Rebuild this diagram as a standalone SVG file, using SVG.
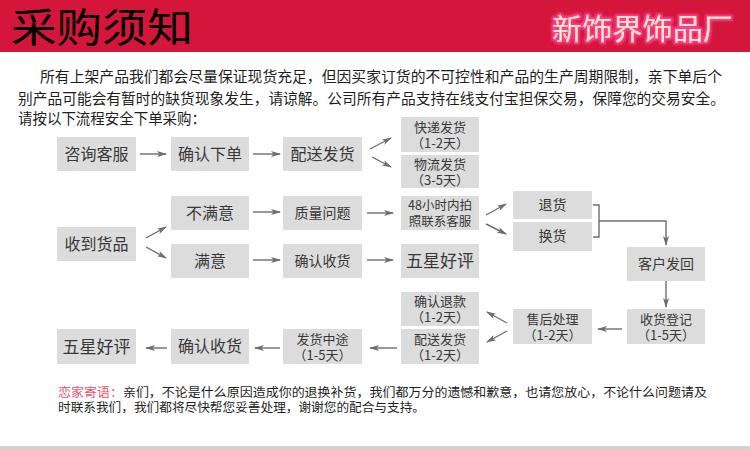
<svg xmlns="http://www.w3.org/2000/svg" width="750" height="449" viewBox="0 0 750 449">
<defs>
<style>
.bx{fill:#dcdcdc}
.t{font-family:"Noto Sans CJK SC","Noto Sans",sans-serif;fill:#383838;text-anchor:middle}
.t16{font-size:16px}
.t14{font-size:14px}
.t2{font-size:13px}
.t12{font-size:12.5px}
.p{font-family:"Noto Sans CJK SC","Noto Sans",sans-serif;font-size:15px;fill:#1e1e1e}
.f{font-family:"Noto Sans CJK SC","Noto Sans",sans-serif;font-size:12.5px;fill:#1e1e1e}
.c{fill:none;stroke:#6e6e6e;stroke-width:1.4}
</style>
<marker id="ah" viewBox="0 0 10 6" refX="9" refY="3" markerWidth="10" markerHeight="6" markerUnits="userSpaceOnUse" orient="auto">
<path d="M0,0 L10,3 L0,6 L2.5,3 Z" fill="#6e6e6e"/>
</marker>
<filter id="glow" x="-10%" y="-30%" width="120%" height="160%">
<feMorphology in="SourceAlpha" operator="dilate" radius="2" result="d"/>
<feGaussianBlur in="d" stdDeviation="1.2" result="b"/>
<feFlood flood-color="#ff3d8f"/>
<feComposite in2="b" operator="in" result="g"/>
<feMerge><feMergeNode in="g"/><feMergeNode in="SourceGraphic"/></feMerge>
</filter>
</defs>
<rect x="0" y="0" width="750" height="449" fill="#ffffff"/>
<g id="header">
<rect x="0" y="0" width="750" height="52" fill="#d3163a"/>
<text x="11" y="42" font-family="'Noto Sans CJK SC','Noto Sans',sans-serif" font-size="40" fill="#000" textLength="182" lengthAdjust="spacingAndGlyphs">采购须知</text>
<text x="552" y="40" font-family="'Noto Sans CJK SC','Noto Sans',sans-serif" font-size="29" fill="#ffe6c4" filter="url(#glow)" textLength="181" lengthAdjust="spacingAndGlyphs">新饰界饰品厂</text>
</g>
<g id="intro">
<text class="p" x="40" y="82" textLength="682" lengthAdjust="spacingAndGlyphs">所有上架产品我们都会尽量保证现货充足，但因买家订货的不可控性和产品的生产周期限制，亲下单后个</text>
<text class="p" x="18" y="104" textLength="707" lengthAdjust="spacingAndGlyphs">别产品可能会有暂时的缺货现象发生，请谅解。公司所有产品支持在线支付宝担保交易，保障您的交易安全。</text>
<text class="p" x="18" y="124" textLength="188" lengthAdjust="spacingAndGlyphs">请按以下流程安全下单采购：</text>
</g>
<g id="connectors">
<line class="c" x1="140" y1="154" x2="166" y2="154" marker-end="url(#ah)"/>
<line class="c" x1="253" y1="154" x2="280" y2="154" marker-end="url(#ah)"/>
<line class="c" x1="370" y1="149" x2="391" y2="138" marker-end="url(#ah)"/>
<line class="c" x1="372" y1="157" x2="391" y2="167" marker-end="url(#ah)"/>
<line class="c" x1="146" y1="238" x2="166" y2="227" marker-end="url(#ah)"/>
<line class="c" x1="146" y1="247" x2="166" y2="258" marker-end="url(#ah)"/>
<line class="c" x1="253" y1="212" x2="280" y2="212" marker-end="url(#ah)"/>
<line class="c" x1="253" y1="260" x2="280" y2="260" marker-end="url(#ah)"/>
<line class="c" x1="367" y1="213" x2="393" y2="213" marker-end="url(#ah)"/>
<line class="c" x1="367" y1="260" x2="393" y2="260" marker-end="url(#ah)"/>
<line class="c" x1="486" y1="215" x2="506" y2="204" marker-end="url(#ah)"/>
<line class="c" x1="486" y1="224" x2="506" y2="234" marker-end="url(#ah)"/>
<path class="c" d="M593,205 H599 V237 H593"/>
<path class="c" d="M599,221 H666 V245" marker-end="url(#ah)"/>
<line class="c" x1="666" y1="281" x2="666" y2="307" marker-end="url(#ah)"/>
<line class="c" x1="622" y1="329" x2="598" y2="329" marker-end="url(#ah)"/>
<line class="c" x1="507" y1="323" x2="487" y2="312" marker-end="url(#ah)"/>
<line class="c" x1="507" y1="331" x2="487" y2="342" marker-end="url(#ah)"/>
<line class="c" x1="397" y1="348" x2="370" y2="348" marker-end="url(#ah)"/>
<line class="c" x1="280" y1="348" x2="255" y2="348" marker-end="url(#ah)"/>
<line class="c" x1="167" y1="348" x2="146" y2="348" marker-end="url(#ah)"/>
</g>
<g id="n-zixun"><rect class="bx" x="57" y="137" width="79" height="34"/><text class="t t16" x="96.5" y="160">咨询客服</text></g>
<g id="n-queren"><rect class="bx" x="171" y="137" width="78" height="34"/><text class="t t16" x="210" y="160">确认下单</text></g>
<g id="n-peisong"><rect class="bx" x="283" y="137" width="79" height="34"/><text class="t t16" x="322.5" y="160">配送发货</text></g>
<g id="n-kuaidi"><rect class="bx" x="401" y="117" width="78" height="35"/><text class="t t2" x="440" y="132">快递发货</text><text class="t t2" x="440" y="148">（1-2天）</text></g>
<g id="n-wuliu"><rect class="bx" x="401" y="155" width="78" height="33"/><text class="t t2" x="440" y="169">物流发货</text><text class="t t2" x="440" y="185">（3-5天）</text></g>
<g id="n-bumanyi"><rect class="bx" x="171" y="196" width="78" height="34"/><text class="t t16" x="210" y="219">不满意</text></g>
<g id="n-zhiliang"><rect class="bx" x="283" y="196" width="79" height="34"/><text class="t t14" x="322.5" y="218">质量问题</text></g>
<g id="n-48h"><rect class="bx" x="401" y="196" width="78" height="34"/><text class="t t12" x="440" y="210">48小时内拍</text><text class="t t12" x="440" y="226">照联系客服</text></g>
<g id="n-shoudao"><rect class="bx" x="57" y="227" width="79" height="34"/><text class="t t16" x="96.5" y="250">收到货品</text></g>
<g id="n-manyi"><rect class="bx" x="171" y="244" width="78" height="34"/><text class="t t16" x="210" y="267">满意</text></g>
<g id="n-querenshouhuo"><rect class="bx" x="283" y="244" width="79" height="34"/><text class="t t14" x="322.5" y="266">确认收货</text></g>
<g id="n-wuxing"><rect class="bx" x="401" y="244" width="78" height="34"/><text class="t" font-size="17" x="440" y="267">五星好评</text></g>
<g id="n-tuihuo"><rect class="bx" x="513" y="191" width="79" height="28"/><text class="t t14" x="552.5" y="210">退货</text></g>
<g id="n-huanhuo"><rect class="bx" x="513" y="222" width="79" height="29"/><text class="t t14" x="552.5" y="241">换货</text></g>
<g id="n-kehu"><rect class="bx" x="627" y="247" width="78" height="34"/><text class="t t14" x="666" y="269">客户发回</text></g>
<g id="n-shouhuodengji"><rect class="bx" x="627" y="309" width="78" height="35"/><text class="t t2" x="666" y="324">收货登记</text><text class="t t2" x="666" y="340">（1-5天）</text></g>
<g id="n-shouhou"><rect class="bx" x="513" y="309" width="79" height="35"/><text class="t t2" x="552.5" y="324">售后处理</text><text class="t t2" x="552.5" y="340">（1-2天）</text></g>
<g id="n-tuikuan"><rect class="bx" x="401" y="292" width="78" height="34"/><text class="t t2" x="440" y="306">确认退款</text><text class="t t2" x="440" y="322">（1-2天）</text></g>
<g id="n-peisong2"><rect class="bx" x="401" y="329" width="78" height="35"/><text class="t t2" x="440" y="344">配送发货</text><text class="t t2" x="440" y="360">（1-2天）</text></g>
<g id="n-zhongtu"><rect class="bx" x="283" y="329" width="79" height="35"/><text class="t t2" x="322.5" y="344">发货中途</text><text class="t t2" x="322.5" y="360">（1-5天）</text></g>
<g id="n-querenshouhuo2"><rect class="bx" x="171" y="329" width="78" height="35"/><text class="t t16" x="210" y="352">确认收货</text></g>
<g id="n-wuxing2"><rect class="bx" x="57" y="329" width="79" height="35"/><text class="t" font-size="17" x="96.5" y="353">五星好评</text></g>
<g id="footer">
<text class="f" x="58" y="397" textLength="649" lengthAdjust="spacingAndGlyphs"><tspan fill="#f0506e">恋家寄语：</tspan>亲们，不论是什么原因造成你的退换补货，我们都万分的遗憾和歉意，也请您放心，不论什么问题请及</text>
<text class="f" x="58" y="412" textLength="367" lengthAdjust="spacingAndGlyphs">时联系我们，我们都将尽快帮您妥善处理，谢谢您的配合与支持。</text>
<rect x="0" y="446" width="750" height="3" fill="#d0d0d0"/>
</g>
</svg>
